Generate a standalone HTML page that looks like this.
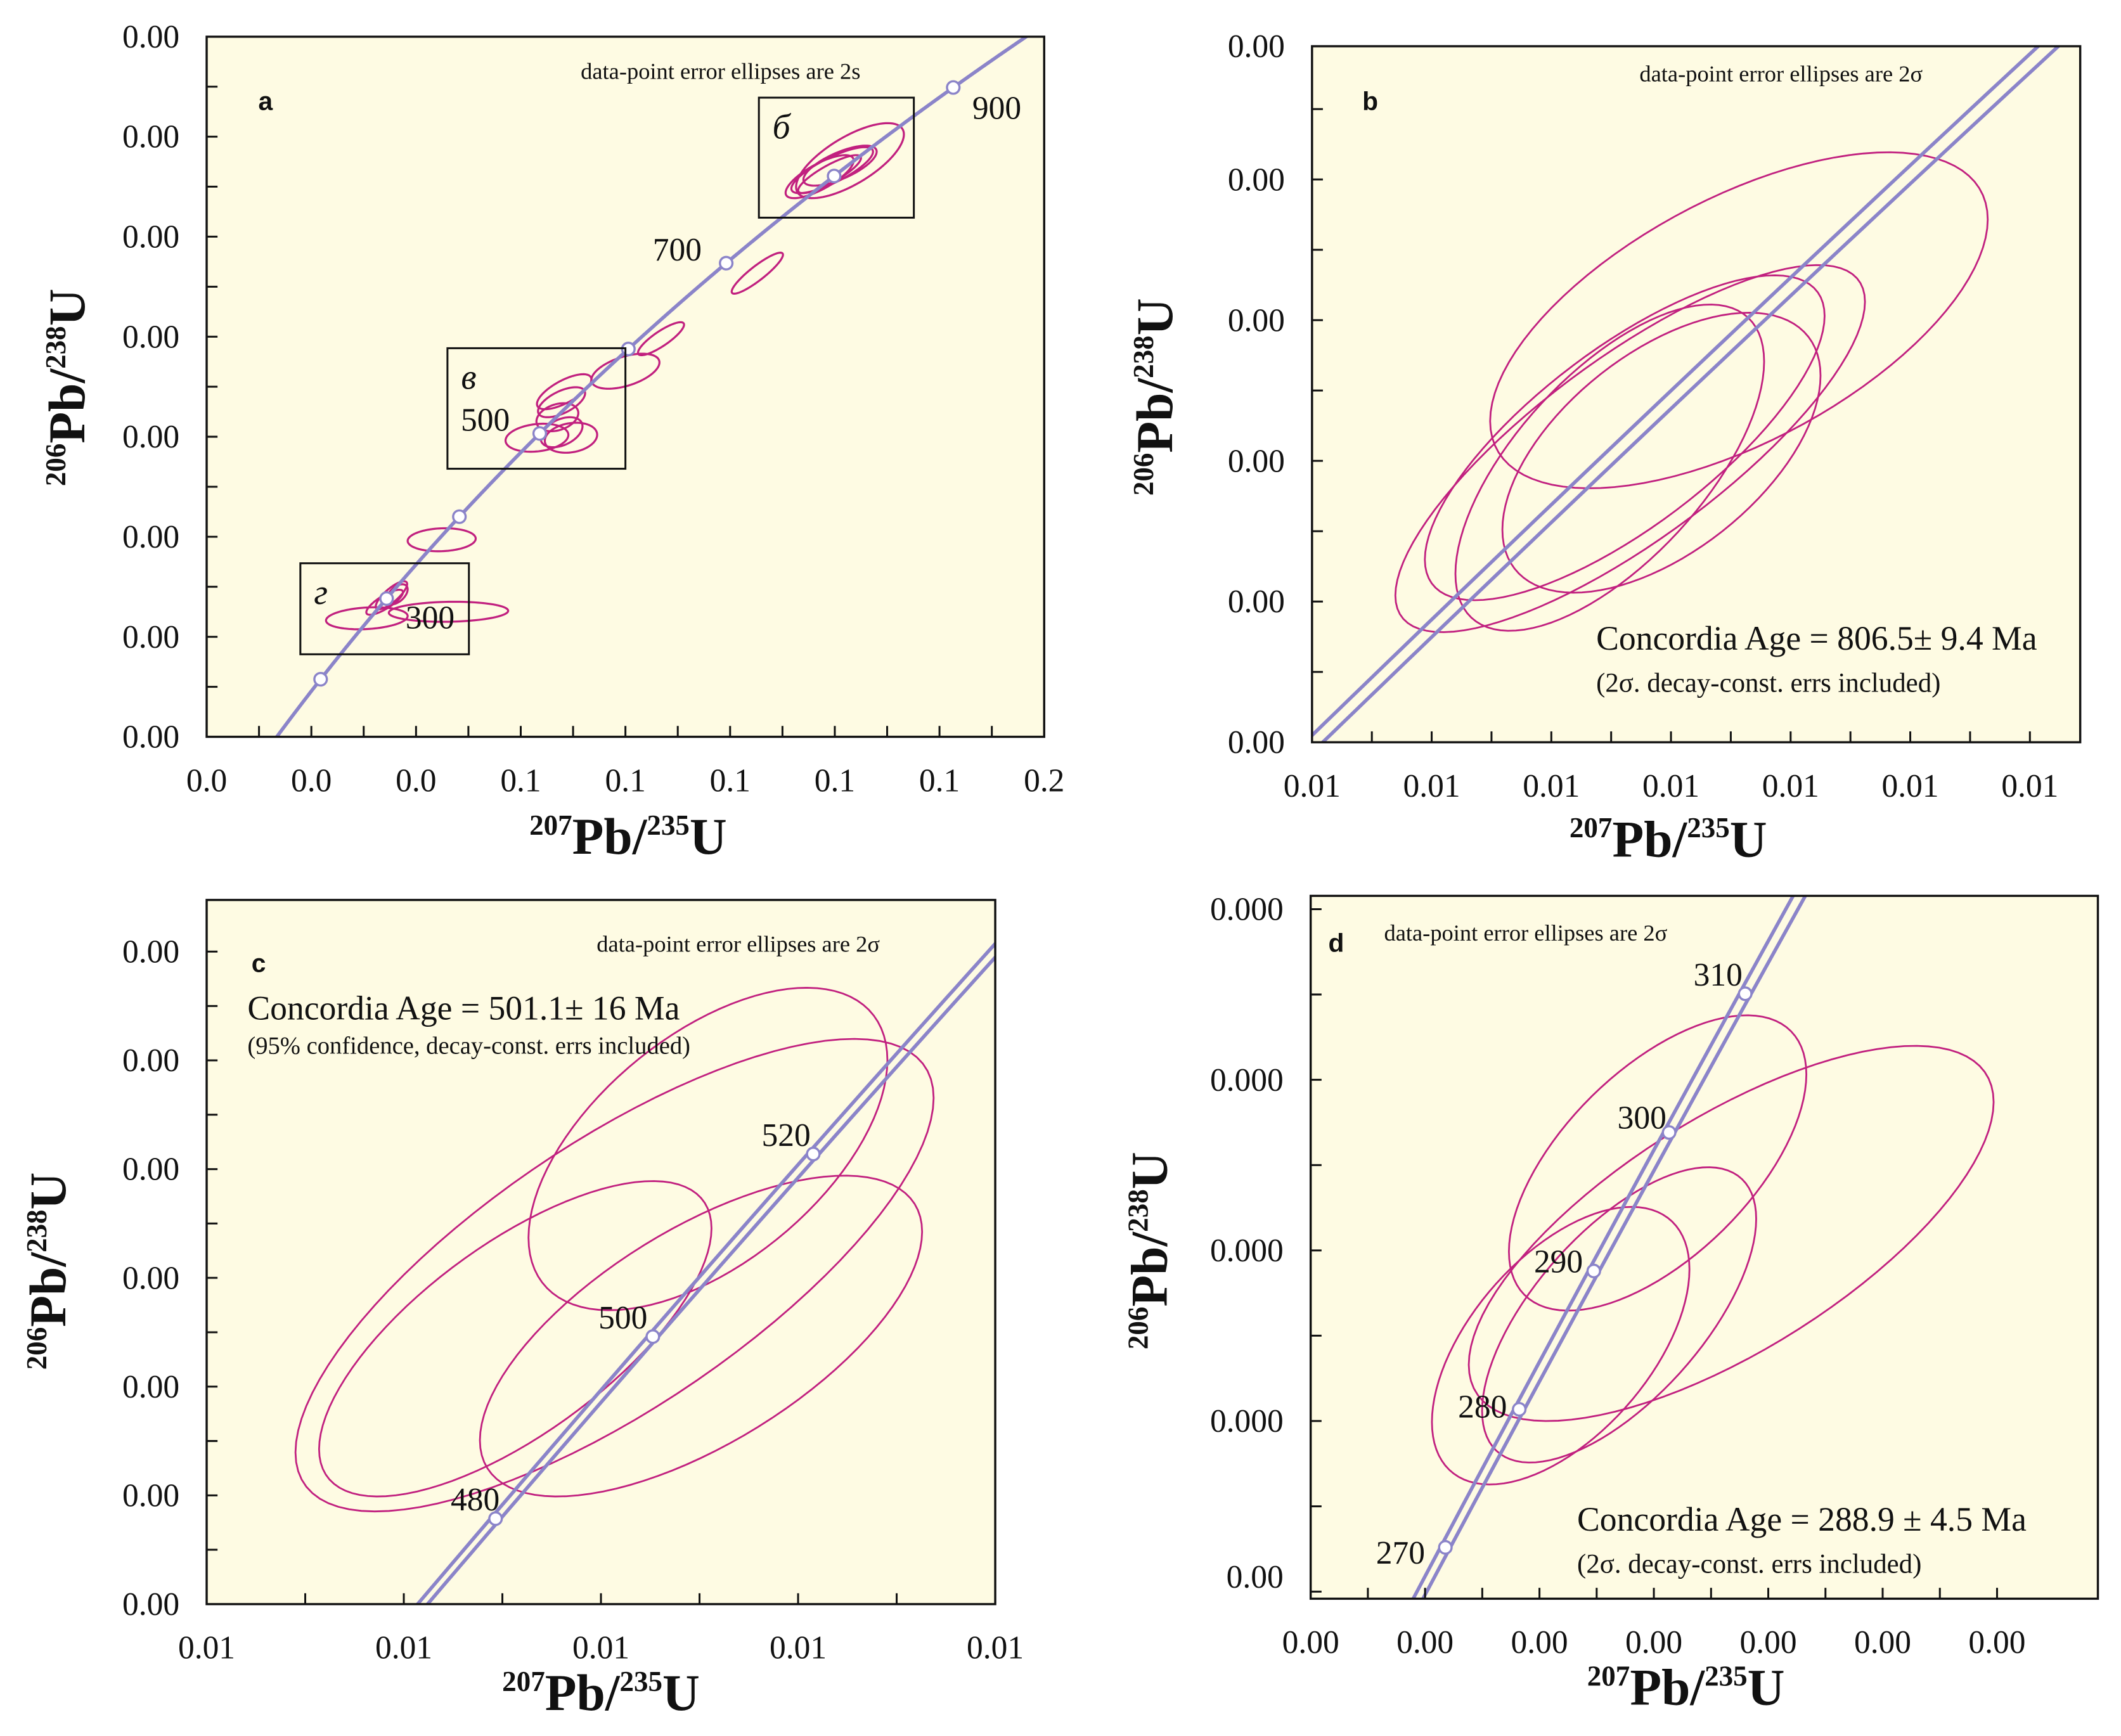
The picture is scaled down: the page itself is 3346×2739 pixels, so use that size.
<!DOCTYPE html>
<html><head><meta charset="utf-8"><title>U-Pb concordia diagrams</title>
<style>
html,body{margin:0;padding:0;background:#fff;overflow:hidden;width:3346px;height:2739px;}
svg{display:block;overflow:hidden;}
text{font-family:"Liberation Serif",serif;fill:#111;}
</style></head>
<body>
<svg id="chart" xmlns="http://www.w3.org/2000/svg" width="3346" height="2739" viewBox="0 0 1560 1277" preserveAspectRatio="none">
<rect x="0" y="0" width="1560" height="1277" fill="#ffffff"/>
</svg>
<script>
// ---------- constants ----------
const LAMBDA238 = 1.55125e-10;
const LAMBDA235 = 9.8485e-10;

// ---------- Panel a data ----------
const aEllX   = [1.195,1.171,1.210,1.229,1.190,1.052,0.868,0.800,0.683,0.678,0.670,0.631,0.696,0.678,0.449,0.353,0.340,0.306,0.462,0.364];
const aEllY   = [0.1333,0.1320,0.1342,0.1352,0.1325,0.1127,0.0996,0.0931,0.0890,0.0869,0.0839,0.0798,0.0798,0.0809,0.0594,0.0483,0.0469,0.0437,0.0450,0.0485];
const aEllSX  = [0.078,0.065,0.070,0.103,0.060,0.049,0.044,0.065,0.052,0.045,0.040,0.060,0.050,0.040,0.065,0.030,0.035,0.078,0.114,0.020];
const aEllSY  = [0.0046,0.0043,0.0040,0.0075,0.0038,0.0041,0.0033,0.0035,0.0035,0.0030,0.0028,0.0028,0.0030,0.0030,0.0023,0.0028,0.0025,0.0022,0.0020,0.0020];
const aEllRho  = [0.8,0.75,0.7,0.7,0.85,0.9,0.85,0.5,0.7,0.6,0.3,0.2,0.2,0.4,0.1,0.8,0.8,0.2,0.1,0.5];
const aMarkAges = [200,300,400,500,600,700,800,900];
const aLabelAges = [300,500,700,900];
const aXTicks = [0,0.2,0.4,0.6,0.8,1.0,1.2,1.4,1.6];
const aXTickLabels = ["0.0","0.0","0.0","0.1","0.1","0.1","0.1","0.1","0.2"];
const aYTicks = [0.02,0.04,0.06,0.08,0.10,0.12,0.14,0.16];
const aYTickLabels = ["0.00","0.00","0.00","0.00","0.00","0.00","0.00","0.00"];
const aBoxNames = ["б","в","г"];
const aBoxX1 = [1.055,0.460,0.179];
const aBoxX2 = [1.351,0.800,0.501];
const aBoxY1 = [0.1478,0.0977,0.0547];
const aBoxY2 = [0.1238,0.0736,0.0365];

// ---------- Panel b data ----------
const bEllX   = [1.22562,1.20744,1.20653,1.20403,1.21267];
const bEllY   = [0.134514,0.132690,0.132844,0.132419,0.132632];
const bEllSX  = [0.04159,0.03925,0.03341,0.02580,0.02659];
const bEllSY  = [0.002388,0.002609,0.002309,0.002319,0.00199];
const bEllRho = [0.6,0.8,0.75,0.65,0.55];
const bXTicks = [1.15426,1.17426,1.19426,1.21426,1.23426,1.25426,1.27426];
const bXTickLabels = ["0.01","0.01","0.01","0.01","0.01","0.01","0.01"];
const bYTicks = [0.128516,0.130516,0.132516,0.134516,0.136516,0.138516];
const bYTickLabels = ["0.00","0.00","0.00","0.00","0.00","0.00"];

// ---------- Panel c data ----------
const cEllX   = [0.64746,0.62851,0.60837,0.64605];
const cEllY   = [0.08410,0.08178,0.08061,0.08066];
const cEllSX  = [0.03641,0.06474,0.03981,0.04486];
const cEllSY  = [0.002965,0.004345,0.0029,0.00295];
const cEllRho = [0.55,0.75,0.7,0.65];
const cMarkAges = [480,500,520];
const cXTicks = [0.54575,0.58575,0.62575,0.66575,0.70575];
const cXTickLabels = ["0.01","0.01","0.01","0.01","0.01"];
const cYTicks = [0.07573,0.07773,0.07973,0.08173,0.08373,0.08573,0.08773];
const cYTickLabels = ["0.00","0.00","0.00","0.00","0.00","0.00","0.00"];

// ---------- Panel d data ----------
const dEllX   = [0.34173,0.35459,0.33500,0.32478];
const dEllY   = [0.04728,0.046454,0.045499,0.045138];
const dEllSX  = [0.02600,0.04588,0.02396,0.02251];
const dEllSY  = [0.001731,0.002199,0.001731,0.001627];
const dEllRho = [0.6,0.7,0.65,0.55];
const dMarkAges = [270,280,290,300,310];
const dXTicks = [0.28107,0.30107,0.32107,0.34107,0.36107,0.38107,0.40107];
const dXTickLabels = ["0.00","0.00","0.00","0.00","0.00","0.00","0.00"];
const dYTicks = [0.042255,0.044255,0.046255,0.048255,0.050255];
const dYTickLabels = ["0.00","0.000","0.000","0.000","0.000"];

// ---------- layout (axes definitions) ----------
const P = {
  a:{L:152,R:768,T:27,B:542,x0:0,kx:385,y0:0.02,ky:3679,tMin:122,tMax:958,band:0},
  b:{L:965,R:1530,T:34,B:546,x0:1.15426,kx:4400,y0:0.128516,ky:51750,tMin:776,tMax:838,band:0.0009},
  c:{L:152,R:732,T:662,B:1180,x0:0.54575,kx:3625,y0:0.07573,ky:40000,tMin:462,tMax:550,band:0.00137},
  d:{L:964,R:1543,T:659,B:1176,x0:0.28107,kx:4207,y0:0.042172,ky:62750,tMin:262,tMax:340,band:0.0025}
};
const SVGNS = "http://www.w3.org/2000/svg";
const root = document.getElementById('chart');
function el(tag, parent){ const e=document.createElementNS(SVGNS,tag); parent.appendChild(e); return e; }
function X(p,v){ return p.L + (v - p.x0)*p.kx; }
function Y(p,v){ return p.B - (v - p.y0)*p.ky; }
function conc(t, e){ return [Math.exp(LAMBDA235*(1+e)*t*1e6)-1, Math.exp(LAMBDA238*t*1e6)-1]; }

const PURPLE = "#8b84c9";
const MAGENTA = "#c1207f";

function drawPanel(key, p, ell, ticks){
  const g = el('g', root);
  
  
  const bg = el('rect', g);
  bg.setAttribute('x', p.L); bg.setAttribute('y', p.T);
  bg.setAttribute('width', p.R-p.L); bg.setAttribute('height', p.B-p.T);
  bg.setAttribute('fill', '#fefbe3');
  
  
  const cp = el('clipPath', g); cp.setAttribute('id','clip-'+key);
  const cr = el('rect', cp); cr.setAttribute('x',p.L); cr.setAttribute('y',p.T); cr.setAttribute('width',p.R-p.L); cr.setAttribute('height',p.B-p.T);
  const inner = el('g', g); inner.setAttribute('clip-path','url(#clip-'+key+')');
  
  

  for(let i=0;i<ell.x.length;i++){
    let d='';
    const r = ell.rho[i], q = Math.sqrt(1-r*r);
    for(let k=0;k<=96;k++){
      const t = k/96*2*Math.PI;
      const vx = ell.x[i] + ell.sx[i]*Math.cos(t);
      const vy = ell.y[i] + ell.sy[i]*(r*Math.cos(t) + q*Math.sin(t));
      d += (k?'L':'M') + X(p,vx).toFixed(2) + ',' + Y(p,vy).toFixed(2);
    }
    const pe = el('path', inner);
    pe.setAttribute('d', d+'Z'); pe.setAttribute('fill','none');
    pe.setAttribute('stroke', MAGENTA); pe.setAttribute('stroke-width', key==='a'?1.5:1.3);
    
    
  }

  const bands = p.band ? [-p.band, p.band] : [0];
  bands.forEach((e,bi)=>{
    let d='';
    for(let t=p.tMin,k=0;t<=p.tMax;t+=1,k++){
      const c = conc(t,e);
      d += (k?'L':'M') + X(p,c[0]).toFixed(2) + ',' + Y(p,c[1]).toFixed(2);
    }
    const pl = el('path', inner);
    pl.setAttribute('d', d); pl.setAttribute('fill','none');
    pl.setAttribute('stroke', PURPLE); pl.setAttribute('stroke-width', 2.6);
    
    
  });

  const fr = el('rect', g);
  fr.setAttribute('x', p.L); fr.setAttribute('y', p.T);
  fr.setAttribute('width', p.R-p.L); fr.setAttribute('height', p.B-p.T);
  fr.setAttribute('fill','none'); fr.setAttribute('stroke','#111'); fr.setAttribute('stroke-width',1.6);
  
  

  const xs = ticks.x, ys = ticks.y;
  for(let i=0;i<xs.length;i++){
    const vals = [xs[i]];
    if(i<xs.length-1) vals.push((xs[i]+xs[i+1])/2);
    vals.forEach(v=>{
      const px = X(p,v);
      if(px<=p.L+0.5 || px>=p.R-0.5) return;
      const tl = el('line', g);
      tl.setAttribute('x1',px); tl.setAttribute('x2',px); tl.setAttribute('y1',p.B); tl.setAttribute('y2',p.B-8);
      tl.setAttribute('stroke','#111'); tl.setAttribute('stroke-width',1.4);
      
      
    });
    const lx = el('text', g);
    lx.setAttribute('x', X(p,xs[i])); lx.setAttribute('y', p.B+40);
    lx.setAttribute('text-anchor','middle'); lx.setAttribute('font-size', 24);
    lx.textContent = ticks.xl[i];
    
    
  }
  for(let i=0;i<ys.length;i++){
    const vals = [ys[i]];
    if(i<ys.length-1) vals.push((ys[i]+ys[i+1])/2);
    vals.forEach(v=>{
      const py = Y(p,v);
      if(py<=p.T+0.5 || py>=p.B-0.5) return;
      const tl = el('line', g);
      tl.setAttribute('y1',py); tl.setAttribute('y2',py); tl.setAttribute('x1',p.L); tl.setAttribute('x2',p.L+8);
      tl.setAttribute('stroke','#111'); tl.setAttribute('stroke-width',1.4);
      
      
    });
    let py = Y(p,ys[i]);
    if(py < p.T) py = p.T;
    if(key==='d' && i===0) py = p.B-16;
    const ly = el('text', g);
    ly.setAttribute('x', p.L-20); ly.setAttribute('y', py+8);
    ly.setAttribute('text-anchor','end'); ly.setAttribute('font-size', 24);
    ly.textContent = ticks.yl[i];
    
    
  }
  return {g, inner};
}

function markers(p, inner, ages, key){
  ages.forEach(t=>{
    const c = conc(t,0);
    const m = el('circle', inner);
    m.setAttribute('cx', X(p,c[0])); m.setAttribute('cy', Y(p,c[1])); m.setAttribute('r', 4.6);
    m.setAttribute('fill','#fff'); m.setAttribute('stroke', PURPLE); m.setAttribute('stroke-width',1.6);
    
    
  });
}
function ageLabel(p, g, t, dx, dy, key){
  const c = conc(t,0);
  const tx = el('text', g);
  tx.setAttribute('x', X(p,c[0])+dx); tx.setAttribute('y', Y(p,c[1])+dy+8);
  tx.setAttribute('text-anchor','middle'); tx.setAttribute('font-size', 24);
  tx.textContent = String(t);
  
  
}
function text(str, x, y, size, opts, name){
  const t = el('text', root);
  t.setAttribute('x', x); t.setAttribute('y', y); t.setAttribute('font-size', size);
  if(opts.anchor) t.setAttribute('text-anchor', opts.anchor);
  if(opts.bold) t.setAttribute('font-weight','bold');
  if(opts.italic) t.setAttribute('font-style','italic');
  if(opts.sans) t.setAttribute('style','font-family:"Liberation Sans",sans-serif');
  t.textContent = str;
  
  
  return t;
}
function axisTitle(cx, cy, rotate, sup1, base, sup2, tail, name){
  const t = el('text', root);
  t.setAttribute('x', cx); t.setAttribute('y', cy);
  t.setAttribute('text-anchor','middle'); t.setAttribute('font-weight','bold'); t.setAttribute('font-size', 38);
  if(rotate) t.setAttribute('transform','rotate(-90 '+cx+' '+cy+')');
  
  
  const s1 = el('tspan', t); s1.setAttribute('font-size', 21); s1.setAttribute('dy', -14); s1.textContent = sup1;
  const b1 = el('tspan', t); b1.setAttribute('dy', 14); b1.textContent = base;
  const s2 = el('tspan', t); s2.setAttribute('font-size', 21); s2.setAttribute('dy', -14); s2.textContent = sup2;
  const b2 = el('tspan', t); b2.setAttribute('dy', 14); b2.textContent = tail;
}

// ---------- Panel a ----------
const pa = P.a;
const A = drawPanel('a', pa, {x:aEllX,y:aEllY,sx:aEllSX,sy:aEllSY,rho:aEllRho}, {x:aXTicks,xl:aXTickLabels,y:aYTicks,yl:aYTickLabels});
markers(pa, A.inner, aMarkAges, 'a');
for(let i=0;i<aBoxNames.length;i++){
  const r = el('rect', A.g);
  const x1 = X(pa,aBoxX1[i]), x2 = X(pa,aBoxX2[i]), y1 = Y(pa,aBoxY1[i]), y2 = Y(pa,aBoxY2[i]);
  r.setAttribute('x', x1); r.setAttribute('y', y1); r.setAttribute('width', x2-x1); r.setAttribute('height', y2-y1);
  r.setAttribute('fill','none'); r.setAttribute('stroke','#111'); r.setAttribute('stroke-width',1.4);
  
  
  const t = el('text', A.g);
  t.setAttribute('x', x1+10); t.setAttribute('y', y1+30); t.setAttribute('font-size', 26); t.setAttribute('font-style','italic');
  t.textContent = aBoxNames[i];
  
  
}
ageLabel(pa, A.g, aLabelAges[0], 32, 14, 'a');
ageLabel(pa, A.g, aLabelAges[1], -40, -10, 'a');
ageLabel(pa, A.g, aLabelAges[2], -36, -10, 'a');
ageLabel(pa, A.g, aLabelAges[3], 32, 15, 'a');
text('a', 190, 81, 19, {bold:true, sans:true}, 'panel-letter-a');
text('data-point error ellipses are 2s', 530, 58, 17, {anchor:'middle'}, 'ellipse-note-a');
axisTitle(62, 285, true, '206', 'Pb/', '238', 'U', 'y-axis-title-a');
axisTitle(462, 628, false, '207', 'Pb/', '235', 'U', 'x-axis-title-a');

// ---------- Panel b ----------
const pb = P.b;
const Bp = drawPanel('b', pb, {x:bEllX,y:bEllY,sx:bEllSX,sy:bEllSY,rho:bEllRho}, {x:bXTicks,xl:bXTickLabels,y:bYTicks,yl:bYTickLabels});
text('b', 1002, 81, 19, {bold:true, sans:true}, 'panel-letter-b');
text('data-point error ellipses are 2σ', 1310, 60, 17, {anchor:'middle'}, 'ellipse-note-b');
text('Concordia Age = 806.5± 9.4 Ma', 1174, 478, 25, {}, 'concordia-age-b');
text('(2σ. decay-const. errs included)', 1174, 509, 20, {}, 'concordia-note-b');
axisTitle(862, 292, true, '206', 'Pb/', '238', 'U', 'y-axis-title-b');
axisTitle(1227, 630, false, '207', 'Pb/', '235', 'U', 'x-axis-title-b');

// ---------- Panel c ----------
const pc = P.c;
const C = drawPanel('c', pc, {x:cEllX,y:cEllY,sx:cEllSX,sy:cEllSY,rho:cEllRho}, {x:cXTicks,xl:cXTickLabels,y:cYTicks,yl:cYTickLabels});
markers(pc, C.inner, cMarkAges, 'c');
ageLabel(pc, C.g, cMarkAges[0], -15, -14, 'c');
ageLabel(pc, C.g, cMarkAges[1], -22, -14, 'c');
ageLabel(pc, C.g, cMarkAges[2], -20, -14, 'c');
text('c', 185, 715, 19, {bold:true, sans:true}, 'panel-letter-c');
text('data-point error ellipses are 2σ', 543, 700, 17, {anchor:'middle'}, 'ellipse-note-c');
text('Concordia Age = 501.1± 16 Ma', 182, 750, 25, {}, 'concordia-age-c');
text('(95% confidence, decay-const. errs included)', 182, 775, 18, {}, 'concordia-note-c');
axisTitle(48, 935, true, '206', 'Pb/', '238', 'U', 'y-axis-title-c');
axisTitle(442, 1258, false, '207', 'Pb/', '235', 'U', 'x-axis-title-c');

// ---------- Panel d ----------
const pd = P.d;
const D = drawPanel('d', pd, {x:dEllX,y:dEllY,sx:dEllSX,sy:dEllSY,rho:dEllRho}, {x:dXTicks,xl:dXTickLabels,y:dYTicks,yl:dYTickLabels});
markers(pd, D.inner, dMarkAges, 'd');
ageLabel(pd, D.g, dMarkAges[0], -33, 4, 'd');
ageLabel(pd, D.g, dMarkAges[1], -27, -2, 'd');
ageLabel(pd, D.g, dMarkAges[2], -26, -7, 'd');
ageLabel(pd, D.g, dMarkAges[3], -20, -11, 'd');
ageLabel(pd, D.g, dMarkAges[4], -20, -14, 'd');
text('d', 977, 700, 19, {bold:true, sans:true}, 'panel-letter-d');
text('data-point error ellipses are 2σ', 1018, 692, 17, {}, 'ellipse-note-d');
text('Concordia Age = 288.9 ± 4.5 Ma', 1160, 1126, 25, {}, 'concordia-age-d');
text('(2σ. decay-const. errs included)', 1160, 1157, 20, {}, 'concordia-note-d');
axisTitle(858, 920, true, '206', 'Pb/', '238', 'U', 'y-axis-title-d');
axisTitle(1240, 1254, false, '207', 'Pb/', '235', 'U', 'x-axis-title-d');
</script>
</body></html>
